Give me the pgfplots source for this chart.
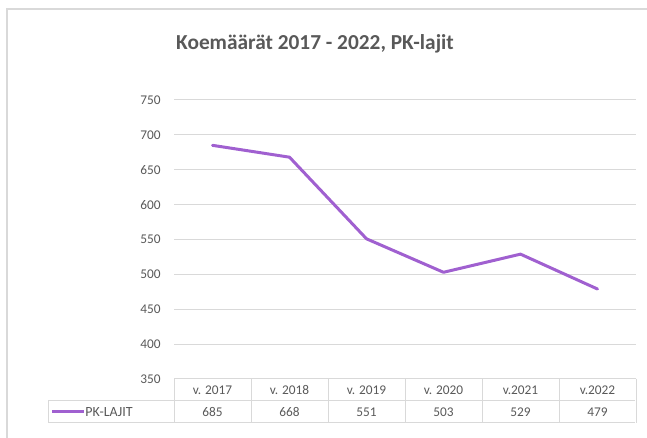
\documentclass[border=0pt]{standalone}
\usepackage{pgfplots}
\pgfplotsset{compat=1.18}
\usepackage{fontspec}
\setmainfont{Carlito}
\definecolor{txt}{HTML}{595959}
\definecolor{grd}{HTML}{D9D9D9}
\definecolor{pk}{RGB}{160,96,208}
\begin{document}
\begin{tikzpicture}
\useasboundingbox (0,0) rectangle (485.25pt,-328.5pt);
\begin{scope}[x=0.75pt,y=-0.75pt]
\draw[grd, line width=0.9pt] (7,438) -- (7,9) -- (647,9);
\node[txt, font=\bfseries\fontsize{16}{18}\selectfont] at (315,44) {Koemäärät 2017 - 2022, PK-lajit};
% data table
\draw[grd, line width=0.75pt] (48,401) -- (635,401);
\draw[grd, line width=0.75pt] (48,423) -- (635,423);
\draw[grd, line width=0.75pt] (48,401) -- (48,423);
\foreach \k in {0,...,6} {\draw[grd, line width=0.75pt] ({174+77*\k},379) -- ({174+77*\k},423);}
\foreach \lab [count=\i from 0] in {v. 2017,v. 2018,v. 2019,v. 2020,v.2021,v.2022}
  {\node[txt, font=\fontsize{10}{11}\selectfont] at ({212.5+77*\i},390) {\lab};}
\foreach \v [count=\i from 0] in {685,668,551,503,529,479}
  {\node[txt, font=\fontsize{10}{11}\selectfont] at ({212.5+77*\i},412) {\v};}
\draw[pk, line width=2.25pt] (52,412) -- (84,412);
\node[txt, font=\fontsize{10.5}{11}\selectfont, anchor=west, inner sep=0pt] at (85,412) {PK-LAJIT};
\end{scope}
\begin{axis}[at={(130.5pt,-284.25pt)}, anchor=south west, scale only axis,
  width=346.5pt, height=209.25pt,
  xmin=-0.5, xmax=5.5, ymin=350, ymax=750,
  ytick={350,400,...,750}, xtick=\empty,
  axis line style={draw=none},
  ymajorgrids, grid style={grd, line width=0.75pt},
  major tick length=0pt,
  yticklabel style={txt, font=\fontsize{10}{11}\selectfont, anchor=east, inner sep=0pt, xshift=-9.75pt},
  /pgf/number format/assume math mode=true,
  clip=false]
\addplot[pk, line width=2.25pt, line join=round, line cap=round] table {
x y
0 685
1 668
2 551
3 503
4 529
5 479
};
\end{axis}
\end{tikzpicture}
\end{document}
